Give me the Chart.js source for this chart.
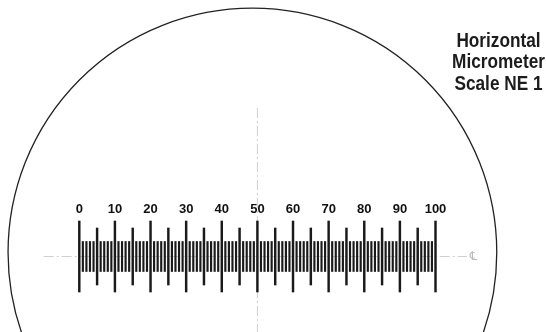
<!DOCTYPE html>
<html>
<head>
<meta charset="utf-8">
<script src="https://cdn.jsdelivr.net/npm/chart.js@4"></script>
<style>
  html, body { margin: 0; padding: 0; background: #fff; }
  #wrap { width: 546px; height: 332px; position: relative; }
</style>
</head>
<body>
<div id="wrap"><canvas id="myChart"></canvas></div>
<script>
// graduations of the scale (divisions)
var majorTicks = [0, 10, 20, 30, 40, 50, 60, 70, 80, 90, 100];
var majorLabels = ["0", "10", "20", "30", "40", "50", "60", "70", "80", "90", "100"];
var midTicks = [5, 15, 25, 35, 45, 55, 65, 75, 85, 95];
var fineTicks = [];
for (var i = 0; i <= 100; i++) {
    if (i % 5 !== 0) fineTicks.push(i);
}
var titleLines = ["Horizontal", "Micrometer", "Scale NE 1"];

// half lengths of the tick marks (y units = px)
var majorHalf = 35.5, midHalf = 28.5, fineHalf = 15;

function marks(list, half) {
    return list.map(function(v) { return { x: v, y: [-half, half] }; });
}

var reticle = {
    id: 'reticle',
    beforeDatasetsDraw: function(chart) {
        var ctx = chart.ctx, xs = chart.scales.x, ys = chart.scales.y;
        ctx.save();
        // field of view circle
        var cx = xs.getPixelForValue(48.6), cy = ys.getPixelForValue(4);
        var r = xs.getPixelForValue(48.6 + 68.6) - cx;
        ctx.beginPath();
        ctx.arc(cx, cy, r, 0, Math.PI * 2);
        ctx.lineWidth = 1.3;
        ctx.strokeStyle = '#222';
        ctx.stroke();
        // centre lines
        ctx.strokeStyle = '#cfcfcf';
        ctx.lineWidth = 1;
        ctx.setLineDash([10, 3, 2, 3]);
        ctx.beginPath();
        ctx.moveTo(xs.getPixelForValue(-10), ys.getPixelForValue(0));
        ctx.lineTo(xs.getPixelForValue(108.8), ys.getPixelForValue(0));
        ctx.moveTo(xs.getPixelForValue(50), ys.getPixelForValue(148.5));
        ctx.lineTo(xs.getPixelForValue(50), ys.getPixelForValue(-80));
        ctx.stroke();
        ctx.setLineDash([]);
        ctx.fillStyle = '#bbb';
        ctx.font = '12px "DejaVu Sans"';
        ctx.textAlign = 'left';
        ctx.textBaseline = 'middle';
        ctx.fillText('\u2104', xs.getPixelForValue(108.8) + 3, ys.getPixelForValue(0));
        ctx.restore();
    },
    afterDatasetsDraw: function(chart) {
        var ctx = chart.ctx, xs = chart.scales.x, ys = chart.scales.y;
        ctx.save();
        ctx.fillStyle = '#111';
        ctx.textAlign = 'center';
        ctx.textBaseline = 'middle';
        ctx.font = 'bold 13px "Liberation Sans", Arial, sans-serif';
        majorTicks.forEach(function(v, k) {
            ctx.fillText(majorLabels[k], xs.getPixelForValue(v), ys.getPixelForValue(47.5));
        });
        // condensed bold title
        ctx.fillStyle = '#1c1c1c';
        ctx.font = 'bold 21px "Liberation Sans", Arial, sans-serif';
        titleLines.forEach(function(t, k) {
            ctx.save();
            ctx.translate(498.5, 41 + k * 21.5);
            ctx.scale(0.82, 1);
            ctx.fillText(t, 0, 0);
            ctx.restore();
        });
        ctx.restore();
    }
};

var ctx = document.getElementById('myChart').getContext('2d');
var chart = new Chart(ctx, {
    type: 'bar',
    data: {
        datasets: [
            { data: marks(fineTicks, fineHalf), backgroundColor: '#1a1a1a', barThickness: 1.5 },
            { data: marks(midTicks, midHalf), backgroundColor: '#1a1a1a', barThickness: 1.8 },
            { data: marks(majorTicks, majorHalf), backgroundColor: '#1a1a1a', barThickness: 1.8 }
        ]
    },
    options: {
        responsive: true,
        maintainAspectRatio: false,
        animation: false,
        grouped: false,
        layout: { padding: 0 },
        plugins: { legend: { display: false }, tooltip: { enabled: false } },
        events: [],
        scales: {
            x: { type: 'linear', min: -22.26, max: 131.02, offset: false, display: false },
            y: { min: -75.5, max: 256.5, display: false }
        }
    },
    plugins: [reticle]
});
</script>
</body>
</html>
